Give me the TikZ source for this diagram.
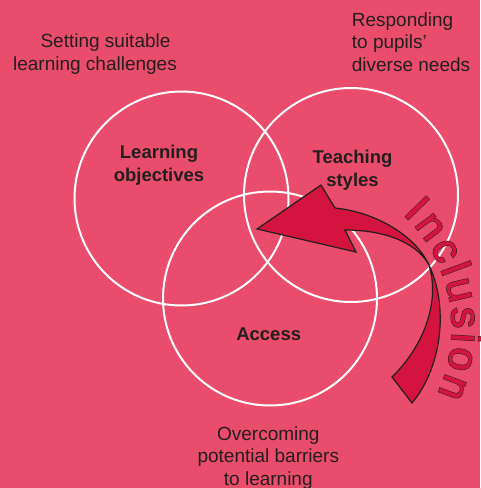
\documentclass[tikz,border=0pt]{standalone}
\usepackage{fontspec}
\setmainfont{Liberation Sans}
\newfontfamily\inclusionout[FakeBold=3.5]{Liberation Sans}
\newfontfamily\inclusionin[FakeBold=1]{Liberation Sans}
\usetikzlibrary{calc}
\definecolor{bgpink}{RGB}{234,76,107}
\definecolor{arrowred}{RGB}{213,19,63}
\definecolor{ink}{RGB}{35,31,32}
\tikzset{
  ring/.style={circle, draw=white, line width=2pt, minimum size=214pt, inner sep=0pt},
  thintext/.style={text=ink, font=\fontsize{19}{22.5}\selectfont, inner sep=0pt},
  boldtext/.style={text=ink, font=\fontsize{18.5}{23}\selectfont\bfseries, align=center, inner sep=0pt},
  bigarrow/.style={fill=arrowred, draw=ink, line width=1.2pt, line join=miter},
  letterout/.style={font=\inclusionout\fontsize{42}{42}\selectfont, text=ink, inner sep=0pt, anchor=base},
  letterin/.style={font=\inclusionin\fontsize{42}{42}\selectfont, text=arrowred, inner sep=0pt, anchor=base},
}
\begin{document}
\begin{tikzpicture}[x=1pt,y=-1pt]
\useasboundingbox (0,0) rectangle (480,488);
\fill[bgpink] (0,0) rectangle (480,488);
% circles
\node[ring] (c1) at (181.5,198.5) {};
\node[ring] (c2) at (351,195) {};
\node[ring] (c3) at (270,298.5) {};
% circle labels
\node[boldtext] (lo) at (159,165) {Learning\\objectives};
\node[boldtext] (ts) at (352.5,170) {Teaching\\styles};
\node[boldtext] (ac) at (268.7,334) {Access};
% outer labels
\node[thintext, align=center] (ss) at (95,54) {\hspace*{21pt}Setting suitable\\learning challenges};
\node[thintext, align=left, anchor=west] (rp) at (351.7,42) {Responding\\to pupils’\\diverse needs};
\node[thintext, align=center] (ob) at (268.3,458) {Overcoming\\potential barriers\\to learning};
% arrow
\draw[bigarrow] (257,229) -- (321,185) -- (335,208)
  .. controls (375,212) and (415,235) .. (429,265)
  .. controls (440,300) and (425,345) .. (392,377)
  -- (412,403)
  .. controls (440,370) and (450,310) .. (429,265)
  .. controls (415,240) and (380,230) .. (345,230)
  -- (356,252) -- cycle;
% Inclusion (outlined letters)
\foreach \ch/\ang [count=\k] in {I/44.5, n/36.7, c/27.25, l/20.36, u/13.0, s/3.55, i/-3.35, o/-10.7, n/-20.6} {
  \node[letterout, rotate=\ang-90] (ol\k) at ($(295,328)+(\ang:157pt)$) {\ch};
  \node[letterin, rotate=\ang-90] (ch\k) at ($(295,328)+(\ang:157pt)$) {\ch};
}
\end{tikzpicture}
\end{document}
